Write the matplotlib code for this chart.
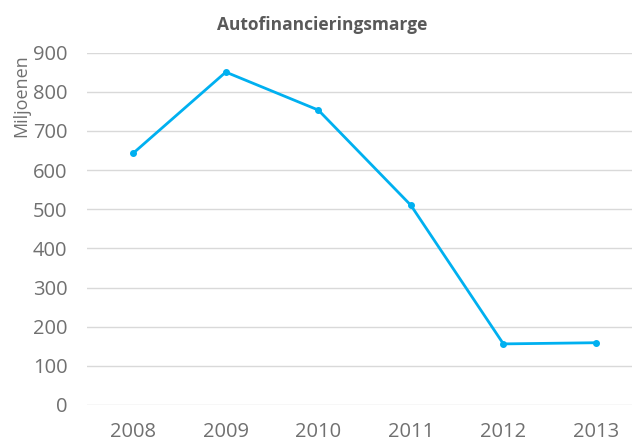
import matplotlib.pyplot as plt

years = ['2008', '2009', '2010', '2011', '2012', '2013']
marge = [643, 850, 753, 510, 156, 159]

grey = '#707070'

fig = plt.figure(figsize=(6.32, 4.41), dpi=100)
ax = fig.add_axes([87 / 632, 36 / 441, 545 / 632, 352.5 / 441])

x = list(range(len(years)))
ax.plot(x, marge, color='#00B0F0', lw=2, marker='o', ms=4, clip_on=False)

ax.set_ylim(0, 900)
ax.set_yticks(range(0, 901, 100))
ax.set_xlim(-0.5, 5.39)
ax.set_xticks(x)
ax.set_xticklabels(years)
ax.grid(axis='y', color='#D9D9D9', lw=1)
ax.set_axisbelow(True)
for s in ax.spines.values():
    s.set_visible(False)
ax.tick_params(length=0, labelsize=14.5, colors=grey)
ax.tick_params(axis='y', pad=14)
ax.tick_params(axis='x', pad=12)
for lab in ax.get_xticklabels() + ax.get_yticklabels():
    lab.set_family('Open Sans')

fig.text(322 / 632, 1 - 25 / 441, 'Autofinancieringsmarge',
         ha='center', va='center', fontsize=12.5, fontweight='bold', color='#595959', family='Open Sans')
fig.text(21 / 632, 1 - 96 / 441, 'Miljoenen', rotation=90, ha='center', va='center',
         fontsize=13, color=grey, family='Open Sans')

fig.savefig('out.png')
